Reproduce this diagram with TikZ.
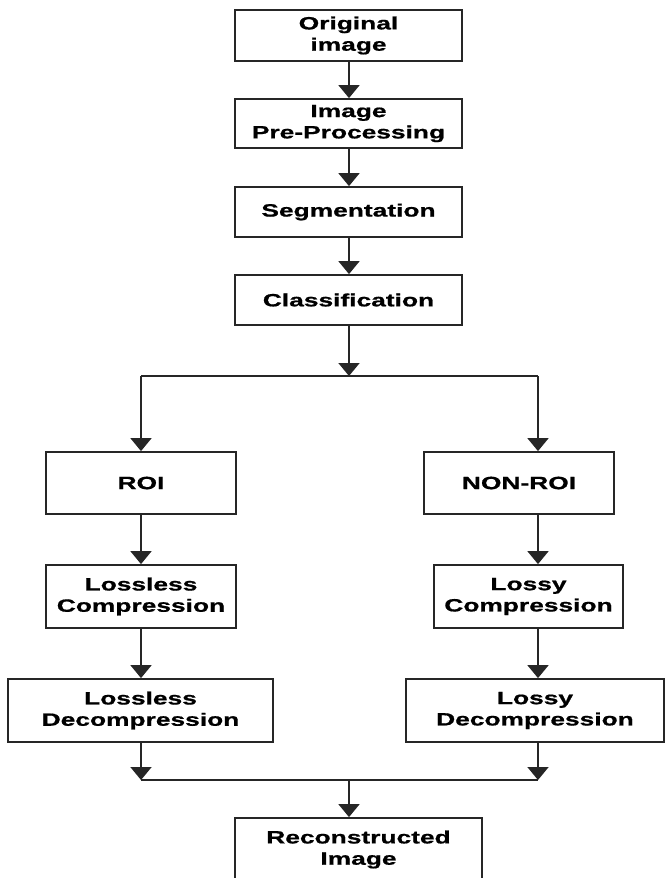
\documentclass[tikz,border=0pt]{standalone}
\usepackage{fontspec}
\setmainfont{Liberation Sans}[FakeStretch=1.48, BoldFeatures={FakeBold=0.8}]
\usetikzlibrary{arrows.meta}
\begin{document}
\begin{tikzpicture}[x=1pt,y=-1pt,
  box/.style={draw=black!85, line width=1.8pt, rectangle, align=center, inner sep=0pt,
    font=\fontsize{17.8}{21.3}\selectfont\bfseries},
  link/.style={draw=black!85, line width=1.8pt},
  arr/.style={link, -{Triangle[width=21pt,length=13pt]}}]
\useasboundingbox (0,0) rectangle (665,878);
\fill[white] (0,0) rectangle (665,878);
\node[box, minimum width=227pt, minimum height=51pt] (orig) at (348.5,35.5) {Original\\image};
\node[box, minimum width=227pt, minimum height=49pt] (pre) at (348.5,123.5) {Image\\Pre-Processing};
\node[box, minimum width=227pt, minimum height=50pt] (seg) at (348.5,212) {Segmentation};
\node[box, minimum width=227pt, minimum height=50pt] (cls) at (348.5,300) {Classification};
\node[box, minimum width=190pt, minimum height=62pt] (roi) at (141,483) {ROI};
\node[box, minimum width=190pt, minimum height=62pt] (nroi) at (519,483) {NON-ROI};
\node[box, minimum width=190pt, minimum height=63pt] (lc) at (141,596.5) {Lossless\\Compression};
\node[box, minimum width=189pt, minimum height=63pt] (lyc) at (528.5,596.5) {Lossy\\Compression};
\node[box, minimum width=265pt, minimum height=63pt] (ld) at (140.5,710.5) {Lossless\\Decompression};
\node[box, minimum width=258pt, minimum height=63pt] (lyd) at (535,710.5) {Lossy\\Decompression};
\node[box, minimum width=247pt, minimum height=63pt] (rec) at (358.5,849.5) {Reconstructed\\Image};
\coordinate (split) at (349,376);
\coordinate (lbr) at (141,376);
\coordinate (rbr) at (538,376);
\coordinate (ljoin) at (141,780);
\coordinate (rjoin) at (538,780);
\coordinate (join) at (349,780);
\draw[arr] (orig.south -| split) -- (split |- pre.north);
\draw[arr] (pre.south -| split) -- (split |- seg.north);
\draw[arr] (seg.south -| split) -- (split |- cls.north);
\draw[arr] (cls.south -| split) -- (split);
\draw[link] (lbr) -- (rbr);
\draw[arr] (lbr) -- (lbr |- roi.north);
\draw[arr] (rbr) -- (rbr |- nroi.north);
\draw[arr] (roi.south -| lbr) -- (lbr |- lc.north);
\draw[arr] (nroi.south -| rbr) -- (rbr |- lyc.north);
\draw[arr] (lc.south -| lbr) -- (lbr |- ld.north);
\draw[arr] (lyc.south -| rbr) -- (rbr |- lyd.north);
\draw[arr] (ld.south -| ljoin) -- (ljoin);
\draw[arr] (lyd.south -| rjoin) -- (rjoin);
\draw[link] (ljoin) -- (rjoin);
\draw[arr] (join) -- (join |- rec.north);
\end{tikzpicture}
\end{document}
